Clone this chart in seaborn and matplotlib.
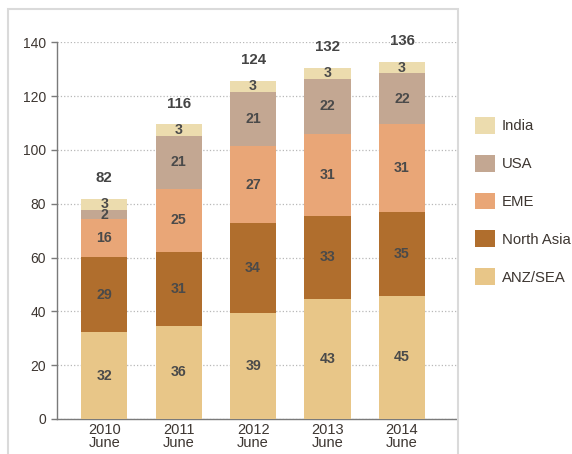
import pandas as pd
import matplotlib.pyplot as plt
import seaborn as sns
from matplotlib.patches import Patch, Rectangle

# Datos
periodos = ['2010\nJune', '2011\nJune', '2012\nJune', '2013\nJune', '2014\nJune']
regiones = ['ANZ/SEA', 'North Asia', 'EME', 'USA', 'India']

# alturas de cada segmento (como se ven dibujadas)
anz_sea = [32.2, 34.6, 39.3, 44.7, 45.8]
north_asia = [28.1, 27.4, 33.4, 30.9, 31.2]
eme = [13.9, 23.6, 28.8, 30.5, 32.5]
usa = [3.4, 19.7, 20.1, 20.2, 19.0]
india = [4.3, 4.2, 4.1, 4.3, 4.1]

# etiquetas impresas en cada segmento
lbl_anz_sea = [32, 36, 39, 43, 45]
lbl_north_asia = [29, 31, 34, 33, 35]
lbl_eme = [16, 25, 27, 31, 31]
lbl_usa = [2, 21, 21, 22, 22]
lbl_india = [3, 3, 3, 3, 3]
totales = [82, 116, 124, 132, 136]

colores = {
    'ANZ/SEA': '#e8c688',
    'North Asia': '#b06e2d',
    'EME': '#e9a677',
    'USA': '#c3a792',
    'India': '#ecdcae',
}

sns.set_theme(style="white")
plt.rcParams['font.family'] = ['Liberation Sans', 'DejaVu Sans']

alturas = [anz_sea, north_asia, eme, usa, india]
etiquetas = [lbl_anz_sea, lbl_north_asia, lbl_eme, lbl_usa, lbl_india]

df = pd.DataFrame({'periodo': periodos})
acum = [0.0] * len(periodos)
bases = []
for reg, h in zip(regiones, alturas):
    bases.append(list(acum))
    acum = [a + b for a, b in zip(acum, h)]
    df[reg] = acum

fig = plt.figure(figsize=(5.72, 4.54), dpi=100)
ax = fig.add_axes([0.0997, 0.0771, 0.6993, 0.8297])

# capas acumuladas, de arriba hacia abajo
for reg in reversed(regiones):
    sns.barplot(data=df, x='periodo', y=reg, color=colores[reg], width=0.62,
                saturation=1, linewidth=0, edgecolor='none', ax=ax, zorder=3)

ax.set_ylim(0, 140)
ax.set_xlim(-0.635, 4.74)
ax.set_yticks(range(0, 141, 20))
ax.set_xlabel('')
ax.set_ylabel('')

# etiquetas de segmentos
for reg, h, b, lab in zip(regiones, alturas, bases, etiquetas):
    for i in range(len(periodos)):
        ax.text(i, b[i] + h[i] / 2, str(lab[i]), ha='center', va='center',
                fontsize=10.2, fontweight='bold', color='#4a4a4a', zorder=5)

# totales encima de cada barra
for i, t in enumerate(totales):
    ax.annotate(str(t), (i, acum[i]), xytext=(0, 15), textcoords='offset points',
                ha='center', va='center', fontsize=10.8, fontweight='bold',
                color='#444444')

ax.yaxis.grid(True, linestyle=':', color='#b8b8b8', linewidth=0.9, zorder=0)
ax.xaxis.grid(False)
for s in ['top', 'right']:
    ax.spines[s].set_visible(False)
for s in ['left', 'bottom']:
    ax.spines[s].set_color('#7a7a7a')
    ax.spines[s].set_linewidth(1.0)
ax.tick_params(axis='y', direction='out', length=4, width=1, color='#7a7a7a',
               labelsize=10, labelcolor='#3d3631', pad=4, left=True)
ax.tick_params(axis='x', length=0, labelsize=10.5, labelcolor='#3d3631', pad=3)
for t in ax.get_xticklabels():
    t.set_linespacing(0.85)

# leyenda
orden = ['India', 'USA', 'EME', 'North Asia', 'ANZ/SEA']
handles = [Patch(facecolor=colores[r], edgecolor='none') for r in orden]
fig.legend(handles, orden, loc='upper left', bbox_to_anchor=(0.830, 0.742),
           frameon=False, fontsize=10.7, handlelength=1.35, handleheight=1.35,
           labelspacing=1.42, handletextpad=0.45, borderpad=0, borderaxespad=0,
           labelcolor='#3d3631')

# marco gris alrededor del grafico
marco = Rectangle((8 / 572, -0.1), 450 / 572, 1.1 - 9 / 454, transform=fig.transFigure,
                  fill=False, edgecolor='#dadada', linewidth=1.5, clip_on=False)
fig.add_artist(marco)

fig.savefig('out.png', dpi=100)
